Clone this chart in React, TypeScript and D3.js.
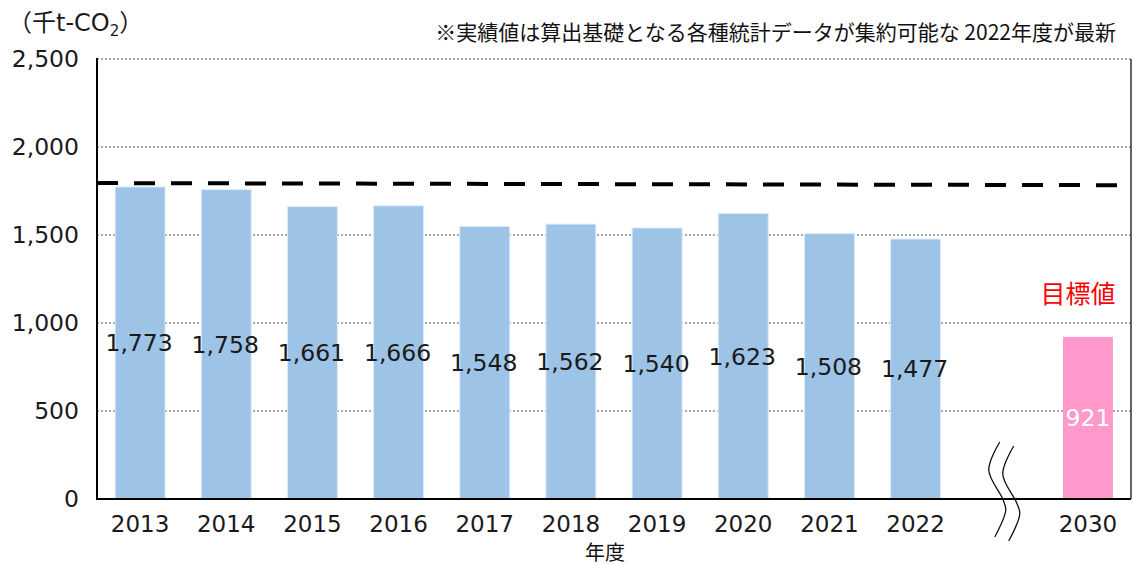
import * as d3 from "d3";
import React, { useEffect, useRef } from "react";

const years = ["2013", "2014", "2015", "2016", "2017", "2018", "2019", "2020", "2021", "2022"];
const actual = [1773, 1758, 1661, 1666, 1548, 1562, 1540, 1623, 1508, 1477];
const targetYear = "2030";
const targetValue = 921;
const refLine = [1795, 1783]; // dashed line, left end / right end
const yTicks = [0, 500, 1000, 1500, 2000, 2500];

// break mark shape (offsets from gap centre)
const breakShape: [number, number][] = [
  [-2, 0], [-13, 28], [1, 57], [4, 68], [-7, 95],
];

export default function App() {
  const svgRef = useRef<SVGSVGElement>(null);
  const W = 1133, H = 565;
  const margin = { top: 59, right: 2, bottom: 66, left: 97 };
  const font = "'Noto Sans CJK JP', 'Noto Sans', sans-serif";
  const numFont = "'DejaVu Sans', 'Noto Sans CJK JP', sans-serif";

  useEffect(() => {
    const svg = d3.select(svgRef.current);
    svg.selectAll("*").remove();

    const keys = [...years, "gap", targetYear];
    const x = d3.scaleBand()
      .domain(keys)
      .range([margin.left, W - margin.right])
      .paddingInner(0.42)
      .paddingOuter(0.21);
    const y = d3.scaleLinear().domain([0, 2500]).range([H - margin.bottom, margin.top]);

    // gridlines
    svg.append("g")
      .selectAll("line")
      .data(yTicks.filter((d) => d > 0))
      .enter()
      .append("line")
      .attr("x1", margin.left)
      .attr("x2", W - margin.right)
      .attr("y1", (d) => y(d))
      .attr("y2", (d) => y(d))
      .attr("stroke", "#555")
      .attr("stroke-width", 1)
      .attr("stroke-dasharray", "2,2");

    // y labels
    svg.append("g")
      .selectAll("text")
      .data(yTicks)
      .enter()
      .append("text")
      .attr("x", 79)
      .attr("y", (d) => y(d))
      .attr("dy", "0.36em")
      .attr("text-anchor", "end")
      .style("font-family", numFont)
      .style("font-size", "23.5px")
      .attr("fill", "#1a1a1a")
      .text((d) => d3.format(",")(d));

    // bars
    const data = years.map((yr, i) => ({ yr, v: actual[i] }));
    svg.append("g")
      .selectAll("rect")
      .data(data)
      .enter()
      .append("rect")
      .attr("x", (d) => x(d.yr)!)
      .attr("width", x.bandwidth())
      .attr("y", (d) => y(d.v))
      .attr("height", (d) => y(0) - y(d.v))
      .attr("fill", "#9DC3E6")
      .attr("stroke", "#DDEBF7")
      .attr("stroke-width", 1);

    svg.append("rect")
      .attr("x", x(targetYear)!)
      .attr("width", x.bandwidth())
      .attr("y", y(targetValue))
      .attr("height", y(0) - y(targetValue))
      .attr("fill", "#FF99CC");

    // value labels
    svg.append("g")
      .selectAll("text")
      .data(data)
      .enter()
      .append("text")
      .attr("x", (d) => x(d.yr)! + x.bandwidth() / 2 - 1)
      .attr("y", (d) => y(d.v / 2))
      .attr("dy", "0.36em")
      .attr("text-anchor", "middle")
      .style("font-family", numFont)
      .style("font-size", "23.5px")
      .attr("fill", "#1a1a1a")
      .text((d) => d3.format(",")(d.v));

    svg.append("text")
      .attr("x", x(targetYear)! + x.bandwidth() / 2)
      .attr("y", y(targetValue / 2))
      .attr("dy", "0.36em")
      .attr("text-anchor", "middle")
      .style("font-family", numFont)
      .style("font-size", "23.5px")
      .attr("fill", "#fff")
      .text(d3.format(",")(targetValue));

    // dashed reference line
    svg.append("line")
      .attr("x1", margin.left)
      .attr("x2", 1125)
      .attr("y1", y(refLine[0]))
      .attr("y2", y(refLine[1]))
      .attr("stroke", "#000")
      .attr("stroke-width", 4)
      .attr("stroke-dasharray", "21,16");

    // axes frame
    svg.append("line")
      .attr("x1", margin.left).attr("x2", margin.left)
      .attr("y1", margin.top - 1).attr("y2", y(0) + 1)
      .attr("stroke", "#000").attr("stroke-width", 2);
    svg.append("line")
      .attr("x1", margin.left - 1).attr("x2", W - margin.right)
      .attr("y1", y(0)).attr("y2", y(0))
      .attr("stroke", "#000").attr("stroke-width", 2);
    svg.append("line")
      .attr("x1", W - margin.right).attr("x2", W - margin.right)
      .attr("y1", margin.top).attr("y2", y(0))
      .attr("stroke", "#333").attr("stroke-width", 1.5);

    // x labels
    svg.append("g")
      .selectAll("text")
      .data([...years, targetYear])
      .enter()
      .append("text")
      .attr("x", (d) => x(d)! + x.bandwidth() / 2)
      .attr("y", 532)
      .attr("text-anchor", "middle")
      .style("font-family", numFont)
      .style("font-size", "23px")
      .attr("fill", "#1a1a1a")
      .text((d) => d);

    // break mark
    const gx = x("gap")! + x.bandwidth() / 2;
    const line = d3.line<[number, number]>().curve(d3.curveCatmullRom);
    [[0, 0], [14, 4]].forEach(([dx, dy]) => {
      svg.append("path")
        .attr("d", line(breakShape.map(([a, b]) => [gx + a + dx, 442 + b + dy])))
        .attr("fill", "none")
        .attr("stroke", "#111")
        .attr("stroke-width", 1.3);
    });

    // texts
    const unit = svg.append("text")
      .attr("x", 8)
      .attr("y", 31)
      .style("font-family", numFont)
      .style("font-size", "24px")
      .attr("fill", "#1a1a1a");
    unit.append("tspan").style("font-family", font).text("（千");
    unit.append("tspan").text("t-CO");
    unit.append("tspan").attr("font-size", "15px").attr("dy", 5).text("2");
    unit.append("tspan").style("font-family", font).attr("dy", -5).text("）");

    svg.append("text")
      .attr("x", 1116)
      .attr("y", 40)
      .attr("text-anchor", "end")
      .style("font-family", font)
      .style("font-size", "21px")
      .attr("fill", "#111")
      .text("※実績値は算出基礎となる各種統計データが集約可能な 2022年度が最新");

    svg.append("text")
      .attr("x", x(targetYear)! + x.bandwidth() / 2 - 10)
      .attr("y", 303)
      .attr("text-anchor", "middle")
      .style("font-family", font)
      .style("font-size", "25px")
      .attr("fill", "#FF0000")
      .text("目標値");

    svg.append("text")
      .attr("x", 605)
      .attr("y", 560)
      .attr("text-anchor", "middle")
      .style("font-family", font)
      .style("font-size", "20px")
      .attr("fill", "#111")
      .text("年度");
  }, []);

  return (
    <svg
      ref={svgRef}
      width={W}
      height={H}
      style={{ position: "absolute", left: 0, top: 0, background: "#fff" }}
    />
  );
}
